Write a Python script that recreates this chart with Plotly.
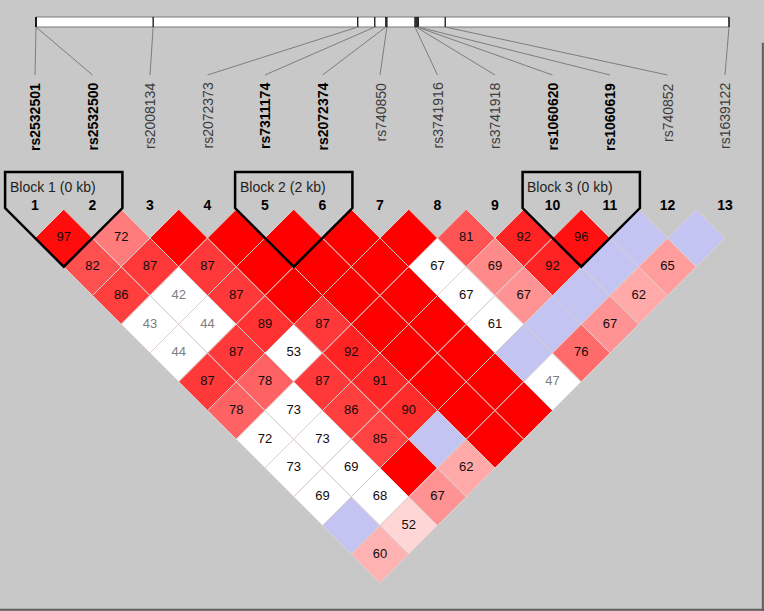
import plotly.graph_objects as go

# SNP names, physical positions (kb) and which ones sit in a block (bold)
snp_names = ["rs2532501", "rs2532500", "rs2008134", "rs2072373", "rs7311174",
             "rs2072374", "rs740850", "rs3741916", "rs3741918", "rs1060620",
             "rs1060619", "rs740852", "rs1639122"]
snp_pos_kb = [0.0, 0.0, 21.3, 58.5, 61.6, 63.6, 63.8, 68.9, 69.1, 69.3, 69.5, 74.4, 126.0]
blocks = [(1, 2, "Block 1 (0 kb)"), (5, 6, "Block 2 (2 kb)"), (10, 11, "Block 3 (0 kb)")]

# D' x100 for pair (i, j), row i holds j = i+1 .. 13 (100 = D' of 1, not printed)
dprime = [
    [97, 82, 86, 43, 44, 87, 78, 72, 73, 69, 100, 60],
    [72, 87, 42, 44, 87, 78, 73, 73, 69, 68, 52],
    [100, 87, 87, 89, 53, 87, 86, 85, 100, 67],
    [100, 100, 100, 87, 92, 91, 90, 100, 62],
    [100, 100, 100, 100, 100, 100, 100, 100],
    [100, 100, 100, 100, 100, 100, 100],
    [100, 67, 67, 61, 100, 47],
    [81, 69, 67, 100, 76],
    [92, 92, 100, 67],
    [96, 100, 62],
    [100, 65],
    [100],
]
# LOD >= 2 ?
lod_high = [
    [1, 1, 1, 0, 0, 1, 1, 0, 0, 0, 0, 1],
    [1, 1, 0, 0, 1, 1, 0, 0, 0, 0, 1],
    [1, 1, 1, 1, 0, 1, 1, 1, 1, 1],
    [1, 1, 1, 1, 1, 1, 1, 0, 1],
    [1, 1, 1, 1, 1, 1, 1, 1],
    [1, 1, 1, 1, 1, 1, 1],
    [1, 0, 0, 0, 0, 0],
    [1, 1, 1, 0, 1],
    [1, 1, 0, 1],
    [1, 0, 1],
    [0, 1],
    [0],
]

n = len(snp_names)
FONT = "Liberation Sans, Arial, sans-serif"

# pixel helpers: 1 axis unit = 57.5 px, SNP 1 at x=35px, row-zero at y=209.25px
UNIT = 57.5
X0_PX, Y0_PX = 35.0, 209.25
W, H = 764, 611
def ypx(p):
    return (p - Y0_PX) / UNIT
def xpx(p):
    return 1 + (p - X0_PX) / UNIT


def box_color(d, lod):
    # Haploview standard D'/LOD scheme
    if lod:
        if d >= 100:
            return "rgb(255,0,0)"
        g = int((255 - 32) * 2 * (1 - d / 100.0))
        return "rgb(255,%d,%d)" % (g, g)
    if d >= 100:
        return "rgb(196,196,242)"
    return "rgb(255,255,255)"


shapes = []
tx, ty, tt, tc = [], [], [], []
for i in range(n - 1):
    for k, d in enumerate(dprime[i]):
        a, b = i + 1, i + 2 + k
        cx, cy = (a + b) / 2.0, (b - a) / 2.0
        path = "M %f %f L %f %f L %f %f L %f %f Z" % (
            cx, cy - 0.5, cx + 0.5, cy, cx, cy + 0.5, cx - 0.5, cy)
        shapes.append(dict(type="path", path=path, xref="x", yref="y",
                           fillcolor=box_color(d, lod_high[i][k]),
                           line=dict(color="rgb(222,208,208)", width=1), layer="below"))
        if d < 100:
            tx.append(cx)
            ty.append(cy)
            tt.append(str(d))
            tc.append("rgb(125,125,125)" if d < 50 else "rgb(20,10,10)")

# block outlines
annotations = []
top = ypx(172)
for a, b, label in blocks:
    xc, yb = (a + b) / 2.0, (b - a) / 2.0 + 0.5
    xl, xr = a - 0.52, b + 0.52
    path = "M %f %f L %f %f L %f %f L %f %f L %f %f Z" % (
        xl, top, xr, top, xr, yb - (xr - xc), xc, yb, xl, yb - (xc - xl))
    shapes.append(dict(type="path", path=path, xref="x", yref="y",
                       line=dict(color="black", width=2.5), layer="above"))
    annotations.append(dict(x=xl + 0.05, y=ypx(187), xref="x", yref="y", text=label,
                            showarrow=False, xanchor="left", yanchor="middle",
                            font=dict(family=FONT, size=14, color="rgb(30,30,30)")))

# chromosome bar with SNP ticks and connector lines
bar_l, bar_r = xpx(36), xpx(729)
bar_t, bar_b = ypx(17), ypx(27)
total = snp_pos_kb[-1]
shapes.append(dict(type="rect", x0=bar_l, x1=bar_r, y0=bar_t, y1=bar_b, xref="x", yref="y",
                   fillcolor="white", line=dict(color="rgb(120,120,120)", width=1)))
in_block = set()
for a, b, _ in blocks:
    in_block.update(range(a, b + 1))
for idx, pos in enumerate(snp_pos_kb):
    bx = bar_l + pos / total * (bar_r - bar_l)
    shapes.append(dict(type="line", x0=bx, x1=bx, y0=bar_t, y1=bar_b, xref="x", yref="y",
                       line=dict(color="black", width=1.2)))
    shapes.append(dict(type="line", x0=bx, x1=idx + 1, y0=bar_b, y1=ypx(75), xref="x", yref="y",
                       line=dict(color="rgb(125,125,125)", width=1)))
    name = snp_names[idx]
    bold = (idx + 1) in in_block
    annotations.append(dict(x=idx + 1, y=ypx(81), xref="x", yref="y",
                            text="<b>%s</b>" % name if bold else name, textangle=-90,
                            showarrow=False, xanchor="center", yanchor="top",
                            font=dict(family=FONT, size=14,
                                      color="black" if bold else "rgb(60,60,60)")))

# window frame lines
shapes.append(dict(type="line", xref="paper", yref="paper", x0=0, x1=1, y0=0.002, y1=0.002,
                   line=dict(color="rgb(95,95,95)", width=2)))
shapes.append(dict(type="line", xref="paper", yref="paper", x0=0.9985, x1=0.9985, y0=0, y1=0.93,
                   line=dict(color="rgb(95,95,95)", width=2)))

fig = go.Figure()
fig.add_trace(go.Scatter(x=tx, y=ty, text=tt, mode="text", hoverinfo="skip",
                         textfont=dict(family=FONT, size=13, color=tc)))
fig.add_trace(go.Scatter(x=list(range(1, n + 1)), y=[ypx(206)] * n, mode="text",
                         text=["<b>%d</b>" % k for k in range(1, n + 1)], hoverinfo="skip",
                         textfont=dict(family=FONT, size=14, color="black")))

fig.update_layout(
    width=W, height=H,
    margin=dict(l=0, r=0, t=0, b=0),
    paper_bgcolor="#c8c8c8", plot_bgcolor="#c8c8c8",
    showlegend=False,
    shapes=shapes,
    annotations=annotations,
    xaxis=dict(range=[xpx(0), xpx(W)], visible=False, fixedrange=True),
    yaxis=dict(range=[ypx(H), ypx(0)], visible=False, fixedrange=True),
)

# page body has an 8px default margin; drop it so the figure fills the window
fig.write_html("out.html", config={"displayModeBar": False},
               post_script="document.body.style.margin='0px';document.body.style.overflow='hidden';")
